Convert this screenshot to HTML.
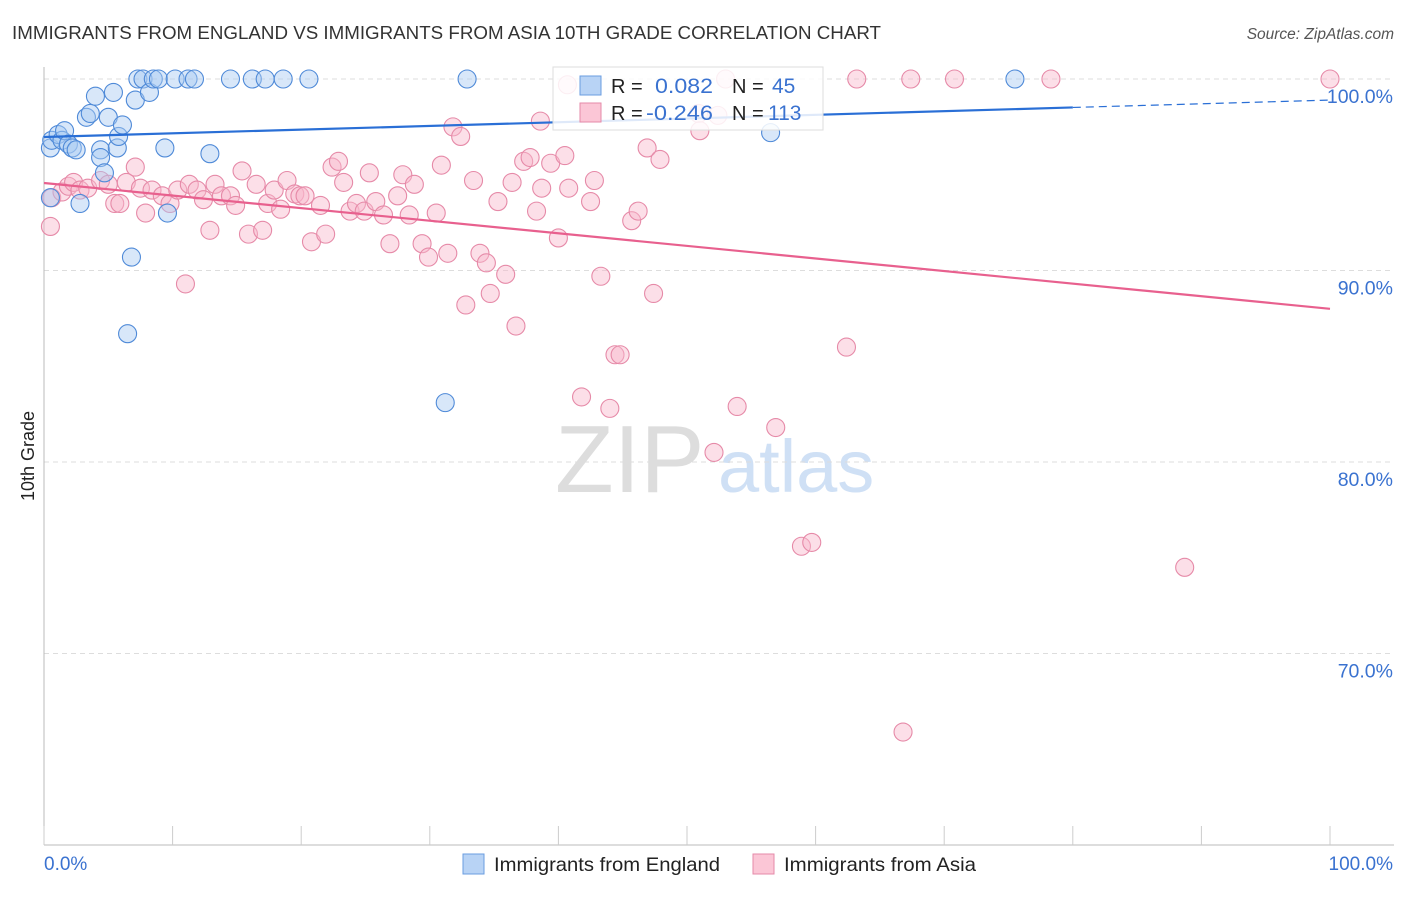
<!DOCTYPE html>
<html><head><meta charset="utf-8"><style>
body{margin:0;background:#fff;font-family:"Liberation Sans",sans-serif;}
svg text{font-family:"Liberation Sans",sans-serif;}
</style></head><body>
<svg id="chart" width="1406" height="892" xmlns="http://www.w3.org/2000/svg">
<text x="12" y="39" font-size="18" fill="#333" textLength="869" lengthAdjust="spacingAndGlyphs">IMMIGRANTS FROM ENGLAND VS IMMIGRANTS FROM ASIA 10TH GRADE CORRELATION CHART</text>
<text x="1394" y="39" font-size="15.5" fill="#555" font-style="italic" text-anchor="end">Source: ZipAtlas.com</text>
<text x="34" y="456" font-size="18" fill="#222" text-anchor="middle" transform="rotate(-90 34 456)">10th Grade</text>
<g>
<text x="555" y="492" font-size="96" fill="#ddd" font-family="Liberation Serif,serif">ZIP</text>
<text x="718" y="492" font-size="74" fill="#cfe0f5">atlas</text>
</g>
<g id="grid"></g><g id="axes"></g><g id="pts"></g><g id="trend"></g>
<g>
<rect x="553" y="67" width="270" height="63" fill="#fff" fill-opacity="0.85" stroke="#ddd"/>
<rect x="580" y="76" width="21" height="19" fill="#b8d3f5" stroke="#6a9de0"/>
<rect x="580" y="103" width="21" height="19" fill="#fbc6d6" stroke="#e58aa8"/>
<text x="611" y="93" font-size="20" fill="#222">R = </text>
<text x="655" y="93" font-size="21" fill="#3a72d0" textLength="58" lengthAdjust="spacingAndGlyphs">0.082</text>
<text x="732" y="93" font-size="20" fill="#222">N = </text>
<text x="772" y="93" font-size="21" fill="#3a72d0">45</text>
<text x="611" y="120" font-size="20" fill="#222">R = </text>
<text x="646" y="120" font-size="21" fill="#3a72d0" textLength="67" lengthAdjust="spacingAndGlyphs">-0.246</text>
<text x="732" y="120" font-size="20" fill="#222">N = </text>
<text x="768" y="120" font-size="21" fill="#3a72d0">113</text>
</g>
<g>
<rect x="463" y="854" width="21" height="20" fill="#b8d3f5" stroke="#6a9de0"/>
<text x="494" y="871" font-size="19.5" fill="#222" textLength="226" lengthAdjust="spacingAndGlyphs">Immigrants from England</text>
<rect x="753" y="854" width="21" height="20" fill="#fbc6d6" stroke="#e58aa8"/>
<text x="784" y="871" font-size="19.5" fill="#222" textLength="192" lengthAdjust="spacingAndGlyphs">Immigrants from Asia</text>
</g>
</svg>
<script>
const yTicks=[100,90,80,70];
const yTickLabels=["100.0%","90.0%","80.0%","70.0%"];
const xTicks=[0,10,20,30,40,50,60,70,80,90,100];
const xTickLabels=["0.0%","100.0%"];
const englandX=[0.5,0.6,1.1,1.4,1.6,1.9,2.2,2.5,3.3,3.6,4.0,4.4,4.4,5.0,5.4,5.7,5.8,6.1,4.7,7.1,7.3,7.7,8.2,8.5,8.9,9.4,9.6,10.2,11.2,11.7,12.9,14.5,16.2,17.2,18.6,20.6,32.9,75.5,56.5,6.8,6.5,31.2,2.8,0.5];
const englandY=[96.4,96.8,97.1,96.8,97.3,96.6,96.4,96.3,98.0,98.2,99.1,96.3,95.9,98.0,99.3,96.4,97.0,97.6,95.1,98.9,100,100,99.3,100,100,96.4,93.0,100,100,100,96.1,100,100,100,100,100,100,100,97.2,90.7,86.7,83.1,93.5,93.8];
const asiaX=[0.5,0.6,1.4,1.9,2.3,2.8,3.4,4.4,5.0,5.5,5.9,6.4,7.1,7.5,7.9,8.4,9.2,9.8,10.4,11.0,11.3,11.9,12.4,12.9,13.3,13.8,14.5,14.9,15.4,15.9,16.5,17.0,17.4,17.9,18.4,18.9,19.5,19.9,20.3,20.8,21.5,21.9,22.4,22.9,23.3,23.8,24.3,24.9,25.3,25.8,26.4,26.9,27.5,27.9,28.4,28.8,29.4,29.9,30.5,30.9,31.4,31.8,32.4,32.8,33.4,33.9,34.4,34.7,35.3,35.9,36.4,36.7,37.3,37.8,38.3,38.7,39.4,40.0,40.5,40.8,41.8,42.5,42.8,43.3,44.0,44.4,44.8,45.7,46.2,46.9,47.4,47.9,50.9,51.0,52.1,52.4,53.0,53.9,56.9,58.9,59.7,62.4,63.2,66.8,67.4,70.8,78.3,88.7,100,40.7,38.6];
const asiaY=[92.3,93.8,94.1,94.4,94.6,94.2,94.3,94.7,94.5,93.5,93.5,94.6,95.4,94.3,93.0,94.2,93.9,93.5,94.2,89.3,94.5,94.2,93.7,92.1,94.5,93.9,93.9,93.4,95.2,91.9,94.5,92.1,93.5,94.2,93.2,94.7,94.0,93.9,93.9,91.5,93.4,91.9,95.4,95.7,94.6,93.1,93.5,93.1,95.1,93.6,92.9,91.4,93.9,95.0,92.9,94.5,91.4,90.7,93.0,95.5,90.9,97.5,97.0,88.2,94.7,90.9,90.4,88.8,93.6,89.8,94.6,87.1,95.7,95.9,93.1,94.3,95.6,91.7,96.0,94.3,83.4,93.6,94.7,89.7,82.8,85.6,85.6,92.6,93.1,96.4,88.8,95.8,98.2,97.3,80.5,98.1,100,82.9,81.8,75.6,75.8,86.0,100,65.9,100,100,100,74.5,100,99.7,97.8];
const englandTrend=[96.97,98.9];
const asiaTrend=[94.57,88.0];
const NS="http://www.w3.org/2000/svg";
const X0=44,X1=1330,Y100=79,PX10=19.15;
function xs(v){return X0+(X1-X0)*v/100;}
function ys(v){return Y100+(100-v)*PX10;}
function mk(tag,attrs,parent){const e=document.createElementNS(NS,tag);for(const k in attrs)e.setAttribute(k,attrs[k]);parent.appendChild(e);return e;}
const grid=document.getElementById('grid'),axes=document.getElementById('axes'),pts=document.getElementById('pts'),trend=document.getElementById('trend');
yTicks.forEach((t,i)=>{
 const l=mk('line',{x1:X0,x2:1394,y1:ys(t),y2:ys(t),stroke:'#ddd','stroke-dasharray':'5,4'},grid);
 
 
 const tx=mk('text',{x:1393,y:ys(t)+24,'font-size':19.5,fill:'#3a72d0','text-anchor':'end'},axes);
 tx.textContent=yTickLabels[i];
 
 
});
const ya=mk('line',{x1:X0,x2:X0,y1:67,y2:845,stroke:'#bbb'},axes);


const xa=mk('line',{x1:X0,x2:1394,y1:845,y2:845,stroke:'#bbb'},axes);


xTicks.forEach(t=>{
 const l=mk('line',{x1:xs(t),x2:xs(t),y1:826,y2:845,stroke:'#ccc'},axes);
 
 
});
const xl0=mk('text',{x:44,y:870,'font-size':19,fill:'#3a72d0'},axes);xl0.textContent=xTickLabels[0];


const xl1=mk('text',{x:1393,y:870,'font-size':19,fill:'#3a72d0','text-anchor':'end'},axes);xl1.textContent=xTickLabels[1];


function dots(X,Y,fill,stroke,name){X.forEach((x,i)=>{
 const c=mk('circle',{cx:xs(x),cy:ys(Y[i]),r:9,fill:fill,'fill-opacity':0.45,stroke:stroke,'stroke-width':1.1},pts);
 
 
});}
dots(asiaX,asiaY,'#f8b8cc','#e68aa8','asia-point');
dots(englandX,englandY,'#a9c9f2','#4f8ad8','england-point');
function yAt(tr,x){return tr[0]+(tr[1]-tr[0])*x/100;}
const bl=mk('line',{x1:xs(0),y1:ys(yAt(englandTrend,0)),x2:xs(80),y2:ys(yAt(englandTrend,80)),stroke:'#2a6fd6','stroke-width':2.2},trend);


const bd=mk('line',{x1:xs(80),y1:ys(yAt(englandTrend,80)),x2:xs(100),y2:ys(yAt(englandTrend,100)),stroke:'#2a6fd6','stroke-width':1.2,'stroke-dasharray':'8,5'},trend);


const pl=mk('line',{x1:xs(0),y1:ys(asiaTrend[0]),x2:xs(100),y2:ys(asiaTrend[1]),stroke:'#e8608e','stroke-width':2.2},trend);


</script>
</body></html>
